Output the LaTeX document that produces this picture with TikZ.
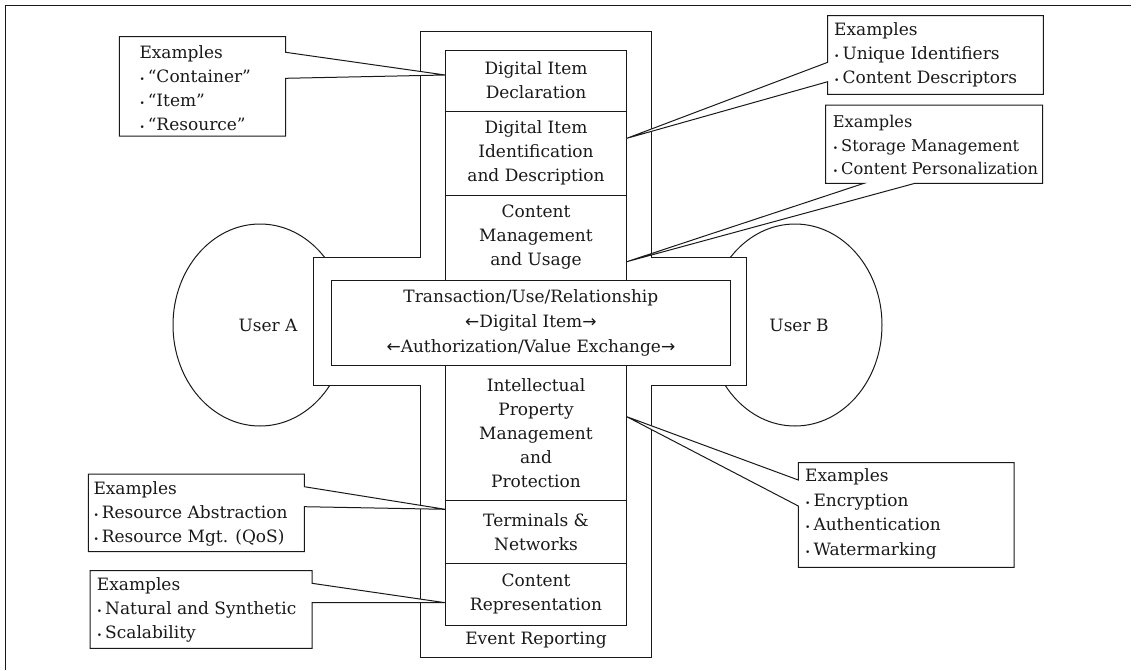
\documentclass[tikz,border=0pt]{standalone}
\usepackage{fontspec}
\setmainfont{DejaVu Serif}
\newfontfamily\arrfont{DejaVu Sans}
\usetikzlibrary{shapes.geometric}
\newcommand{\bul}{{\fontsize{9}{9}\selectfont •}\hspace{3pt}}
\newcommand{\la}{{\arrfont ←}}
\newcommand{\ra}{{\arrfont →}}
\begin{document}
\begin{tikzpicture}[x=1pt,y=-1pt,
  every node/.style={font=\fontsize{17}{24}\selectfont, text=black!90, inner sep=0pt},
  ln/.style={line width=1pt, draw=black!90},
  colbox/.style={ln, rectangle, fill=white, minimum width=180.6pt, align=center},
  callout/.style={ln, fill=white, line join=miter},
  extext/.style={anchor=west, align=left},
  user/.style={ln, ellipse, minimum width=174pt, minimum height=202pt}]
\useasboundingbox (0,0) rectangle (1136,670);
% frame
\draw[ln] (5.5,670) -- (5.5,5) -- (1131,5);
% users
\node[user] (ua) at (260,325) {};
\node[user] (ub) at (795,325) {};
% cross
\draw[ln, fill=white] (420.7,31.7) -- (651,31.7) -- (651,257.7) -- (746,257.7) -- (746,385.7)
  -- (651,385.7) -- (651,657.7) -- (420.7,657.7) -- (420.7,385.7) -- (313,385.7)
  -- (313,257.7) -- (420.7,257.7) -- cycle;
\node (uat) at (268,325) {User A};
\node (ubt) at (799,325) {User B};
% column
\node[colbox, minimum height=61pt] (did) at (536,80.5) {Digital Item\\Declaration};
\node[colbox, minimum height=84pt] (diid) at (536,153) {Digital Item\\Identification\\and Description};
\node[colbox, minimum height=85pt] (cmu) at (536,237.5) {Content\\Management\\and Usage};
\node[colbox, minimum height=135pt] (ipmp) at (536,433.2) {Intellectual\\Property\\Management\\and\\Protection};
\node[colbox, minimum height=62.6pt] (tn) at (536,532) {Terminals \&\\Networks};
\node[colbox, minimum height=61.7pt] (cr) at (536,594.2) {Content\\Representation};
\node (er) at (536,640) {Event Reporting};
% central
\node[ln, rectangle, fill=white, minimum width=398.3pt, minimum height=85.7pt, align=center,
  font=\fontsize{17}{25}\selectfont] (tr) at (530.9,322.9)
  {Transaction/Use/Relationship\\\la Digital Item\ra\\\la Authorization/Value Exchange\ra};
% callout tips
\coordinate (t1) at (did.west |- 0,75);
\coordinate (t2) at (diid.east |- 0,138.3);
\coordinate (t3) at (cmu.east |- 0,261.7);
\coordinate (t4) at (ipmp.east |- 0,416.7);
\coordinate (t5) at (tn.west |- 0,509.3);
\coordinate (t6) at (cr.west |- 0,602.7);
% callouts
\draw[callout] (119.3,36.7) -- (285.7,36.7) -- (285.7,52.3) -- (t1) -- (285.7,78.3) -- (285.7,136) -- (119.3,136) -- cycle;
\node[extext] (c1) at (139.3,87.8) {Examples\\\bul “Container”\\\bul “Item”\\\bul “Resource”};
\draw[callout] (827.7,15.7) -- (1043.3,15.7) -- (1043.3,94.3) -- (827.7,94.3) -- (827.7,81.7) -- (t2) -- (827.7,62.3) -- cycle;
\node[extext] (c2) at (834,55) {Examples\\\bul Unique Identifiers\\\bul Content Descriptors};
\draw[callout] (825.7,105) -- (1042.7,105) -- (1042.7,183.3) -- (915,183.3) -- (t3) -- (864,183.3) -- (825.7,183.3) -- cycle;
\node[extext, font=\fontsize{16.2}{23.5}\selectfont] (c3) at (832.7,145) {Examples\\\bul Storage Management\\\bul Content Personalization};
\draw[callout] (798.3,462.7) -- (1014,462.7) -- (1014,567.3) -- (798.3,567.3) -- (798.3,506) -- (t4) -- (798.3,480) -- cycle;
\node[extext, font=\fontsize{17}{24.5}\selectfont] (c4) at (805,513.7) {Examples\\\bul Encryption\\\bul Authentication\\\bul Watermarking};
\draw[callout] (88.3,474) -- (304.3,474) -- (304.3,486.7) -- (t5) -- (304.3,506.7) -- (304.3,551.7) -- (88.3,551.7) -- cycle;
\node[extext] (c5) at (93.3,513.5) {Examples\\\bul Resource Abstraction\\\bul Resource Mgt. (QoS)};
\draw[callout] (90,570.7) -- (312,570.7) -- (312,583.3) -- (t6) -- (312,602.7) -- (312,648.3) -- (90,648.3) -- cycle;
\node[extext] (c6) at (96.7,610) {Examples\\\bul Natural and Synthetic\\\bul Scalability};
\end{tikzpicture}
\end{document}
